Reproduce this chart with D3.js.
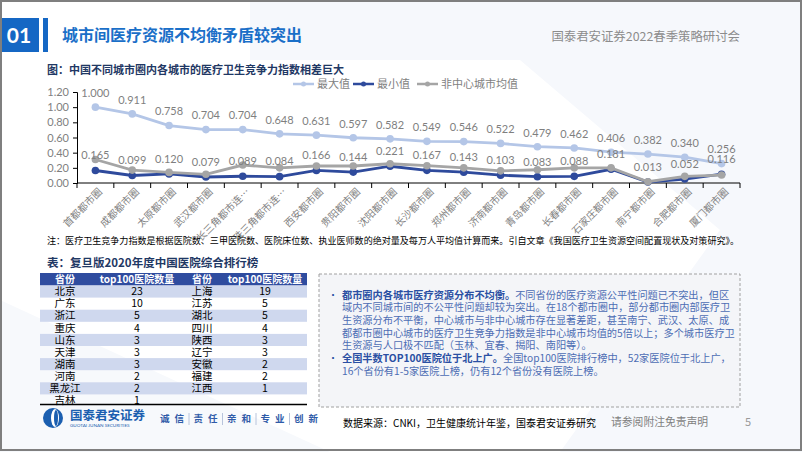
<!DOCTYPE html>
<html>
<head>
<meta charset="utf-8">
<style>
  body { margin: 0; background: #fff; }
  svg { display: block; font-family: "Noto Sans CJK SC", sans-serif; }
</style>
</head>
<body>
<svg width="802" height="452"></svg>
<script src="https://d3js.org/d3.v7.min.js"></script>
<script>

// chart data
var cities = ["首都都市圈", "成都都市圈", "太原都市圈", "武汉都市圈", "长三角都市连…", "珠三角都市连…",
  "西安都市圈", "贵阳都市圈", "沈阳都市圈", "长沙都市圈", "郑州都市圈", "济南都市圈",
  "青岛都市圈", "长春都市圈", "石家庄都市圈", "南宁都市圈", "合肥都市圈", "厦门都市圈"];
var maxVals = [1.000, 0.911, 0.758, 0.704, 0.704, 0.648, 0.631, 0.597, 0.582, 0.549, 0.546, 0.522, 0.479, 0.462, 0.406, 0.382, 0.340, 0.256];
var minVals = [0.165, 0.099, 0.120, 0.079, 0.089, 0.084, 0.166, 0.144, 0.221, 0.167, 0.143, 0.103, 0.083, 0.088, 0.181, 0.013, 0.052, 0.116];
var avgVals = [0.31, 0.17, 0.14, 0.115, 0.237, 0.20, 0.224, 0.224, 0.254, 0.228, 0.20, 0.16, 0.175, 0.20, 0.20, 0.017, 0.088, 0.105];
var yTicks = [0, 0.2, 0.4, 0.6, 0.8, 1.0, 1.2];

// table data
var provL = ["北京", "广东", "浙江", "重庆", "山东", "天津", "湖南", "河南", "黑龙江", "吉林"];
var countL = [23, 10, 5, 4, 3, 3, 3, 2, 2, 1];
var provR = ["上海", "江苏", "湖北", "四川", "陕西", "辽宁", "安徽", "福建", "江西"];
var countR = [19, 5, 5, 4, 3, 3, 2, 2, 1];

var svg = d3.select("svg");

// background tints
svg.append("polygon").attr("points", "250,0 802,0 802,452 560,452 720,230 520,60 250,60")
  .attr("fill", "#f6f8fc");
svg.append("polygon").attr("points", "0,300 330,452 0,452").attr("fill", "#f7f9fc");

// header
svg.append("rect").attr("x", 0).attr("y", 18).attr("width", 39).attr("height", 34).attr("fill", "#1567c4");
svg.append("text").attr("x", 19).attr("y", 36).attr("dy", "0.35em").attr("text-anchor", "middle")
  .attr("fill", "#fff").attr("font-weight", "bold").attr("font-size", 21).attr("font-family", "Lato, sans-serif").text("01");
svg.append("rect").attr("x", 43).attr("y", 18).attr("width", 5).attr("height", 34).attr("fill", "#1567c4");
svg.append("text").attr("x", 62).attr("y", 35).attr("dy", "0.35em").attr("fill", "#1a6fc8")
  .attr("font-weight", "bold").attr("font-size", 16).text("城市间医疗资源不均衡矛盾较突出");
svg.append("text").attr("x", 740).attr("y", 37).attr("dy", "0.35em").attr("text-anchor", "end")
  .attr("fill", "#8c8c8c").attr("font-size", 12.4).text("国泰君安证券2022春季策略研讨会");

// chart title
svg.append("text").attr("x", 47).attr("y", 70).attr("dy", "0.35em").attr("fill", "#1f3864")
  .attr("font-weight", "bold").attr("font-size", 11).text("图：中国不同城市圈内各城市的医疗卫生竞争力指数相差巨大");

var x = d3.scaleBand().domain(cities).range([77, 740]);
var y = d3.scaleLinear().domain([0, 1.2]).range([183, 92]);
var cx = function(i) { return x(cities[i]) + x.bandwidth() / 2; };

// y axis
var yAxis = svg.append("g").attr("transform", "translate(77,0)")
  .call(d3.axisLeft(y).tickValues(yTicks).tickSize(4).tickFormat(d3.format(".2f")));
yAxis.selectAll("path, line").attr("stroke", "#000");
yAxis.selectAll("text").attr("fill", "#7f7f7f").attr("font-size", 11)
  .attr("font-family", "Lato, sans-serif").attr("x", -8);

// x axis
var xg = svg.append("g").attr("transform", "translate(0,183)");
xg.append("line").attr("x1", 77).attr("x2", 740).attr("stroke", "#000");
xg.selectAll(".tk").data(d3.range(cities.length + 1)).enter().append("line")
  .attr("x1", function(i) { return 77 + i * x.bandwidth(); })
  .attr("x2", function(i) { return 77 + i * x.bandwidth(); })
  .attr("y1", 0).attr("y2", 5).attr("stroke", "#000");
svg.selectAll(".xl").data(cities).enter().append("text")
  .attr("transform", function(d, i) { return "translate(" + (cx(i) + 5) + ",190) rotate(-45)"; })
  .attr("text-anchor", "end").attr("dy", "0.35em")
  .attr("fill", "#7f7f7f").attr("font-size", 10).text(function(d) { return d; });

var series = [
  { name: "最大值", vals: maxVals, color: "#b4c6e7" },
  { name: "最小值", vals: minVals, color: "#2e4a9c" },
  { name: "非中心城市均值", vals: avgVals, color: "#a5a5a5" }
];

var line = d3.line().x(function(d, i) { return cx(i); }).y(function(d) { return y(d); });

series.forEach(function(s) {
  svg.append("path").attr("d", line(s.vals)).attr("fill", "none")
    .attr("stroke", s.color).attr("stroke-width", 2.8);
  svg.selectAll(null).data(s.vals).enter().append("circle")
    .attr("cx", function(d, i) { return cx(i); }).attr("cy", function(d) { return y(d); })
    .attr("r", 3.8).attr("fill", s.color);
});

// data labels
var fmt = d3.format(".3f");
[maxVals, minVals].forEach(function(vals, k) {
  svg.selectAll(null).data(vals).enter().append("text")
    .attr("x", function(d, i) { return cx(i); })
    .attr("y", function(d) { return y(d) - (k === 0 ? 14 : 15); })
    .attr("dy", "0.35em").attr("text-anchor", "middle")
    .attr("fill", "#7f7f7f").attr("font-size", 11).attr("font-family", "Lato, sans-serif")
    .text(fmt);
});

// legend
var legX = [293, 353, 417];
series.forEach(function(s, i) {
  var g = svg.append("g").attr("transform", "translate(" + legX[i] + ",84)");
  g.append("line").attr("x1", 0).attr("x2", 21).attr("stroke", s.color).attr("stroke-width", 2.5);
  g.append("circle").attr("cx", 10.5).attr("r", 2.5).attr("fill", s.color);
  g.append("text").attr("x", 24).attr("dy", "0.35em").attr("fill", "#7f7f7f")
    .attr("font-size", 11).text(s.name);
});

// note
svg.append("text").attr("x", 47).attr("y", 241).attr("dy", "0.35em").attr("fill", "#000")
  .attr("font-size", 9.05)
  .text("注：医疗卫生竞争力指数是根据医院数、三甲医院数、医院床位数、执业医师数的绝对量及每万人平均值计算而来。引自文章《我国医疗卫生资源空间配置现状及对策研究》。");

// table
svg.append("text").attr("x", 47).attr("y", 263).attr("dy", "0.35em").attr("fill", "#1f3864")
  .attr("font-weight", "bold").attr("font-size", 11.5).text("表：复旦版2020年度中国医院综合排行榜");

var colX = [65, 137, 202, 265];
var rowH = 12.1, top0 = 285.5;
svg.append("rect").attr("x", 40).attr("y", 273).attr("width", 267).attr("height", 12.5).attr("fill", "#2f4c9f");
["省份", "top100医院数量", "省份", "top100医院数量"].forEach(function(h, i) {
  svg.append("text").attr("x", colX[i]).attr("y", 279.3).attr("dy", "0.35em").attr("text-anchor", "middle")
    .attr("fill", "#fff").attr("font-weight", "bold").attr("font-size", 10).text(h);
});
provL.forEach(function(p, r) {
  var yy = top0 + r * rowH;
  if (r % 2 === 0) {
    svg.append("rect").attr("x", 40).attr("y", yy).attr("width", 267).attr("height", rowH).attr("fill", "#cfd8ee");
  }
  var cells = [p, countL[r], provR[r], countR[r]];
  cells.forEach(function(c, i) {
    if (c === undefined) return;
    svg.append("text").attr("x", colX[i]).attr("y", yy + rowH / 2).attr("dy", "0.35em")
      .attr("text-anchor", "middle").attr("fill", "#000").attr("font-size", 10.5).text(c);
  });
});
svg.append("line").attr("x1", 40).attr("x2", 307).attr("y1", 404.5).attr("y2", 404.5)
  .attr("stroke", "#000").attr("stroke-width", 1.5);

// text box
svg.append("rect").attr("x", 319).attr("y", 274).attr("width", 421).attr("height", 133)
  .attr("fill", "#f4f5f8").attr("stroke", "#a0a0a0").attr("stroke-dasharray", "3,2");
var boxLines = [
  [["都市圈内各城市医疗资源分布不均衡。", true], ["不同省份的医疗资源公平性问题已不突出，但区", false]],
  [["域内不同城市间的不公平性问题却较为突出。在18个都市圈中，部分都市圈内部医疗卫", false]],
  [["生资源分布不平衡，中心城市与非中心城市存在显著差距，甚至南宁、武汉、太原、成", false]],
  [["都都市圈中心城市的医疗卫生竞争力指数是非中心城市均值的5倍以上；多个城市医疗卫", false]],
  [["生资源与人口极不匹配（玉林、宜春、揭阳、南阳等）。", false]],
  [["全国半数TOP100医院位于北上广。", true], ["全国top100医院排行榜中，52家医院位于北上广，", false]],
  [["16个省份有1-5家医院上榜，仍有12个省份没有医院上榜。", false]]
];
boxLines.forEach(function(parts, i) {
  var ty = 295 + i * 12.7;
  var t = svg.append("text").attr("x", 342).attr("y", ty).attr("dy", "0.35em").attr("font-size", 10.2);
  parts.forEach(function(p) {
    t.append("tspan").attr("fill", p[1] ? "#2a4fa3" : "#4d6db4")
      .attr("font-weight", p[1] ? "bold" : "normal").text(p[0]);
  });
  if (i === 0 || i === 5) {
    svg.append("text").attr("x", 328).attr("y", ty).attr("dy", "0.35em").attr("fill", "#2a4fa3")
      .attr("font-size", 10).text("•");
  }
});

// footer
var logo = svg.append("g").attr("transform", "translate(53,418)");
logo.append("circle").attr("r", 10).attr("fill", "#1b5fb0");
logo.append("ellipse").attr("cx", 2).attr("rx", 4).attr("ry", 9).attr("fill", "#fff");
logo.append("ellipse").attr("cx", 3).attr("rx", 2).attr("ry", 8).attr("fill", "#1b5fb0");
svg.append("text").attr("x", 70).attr("y", 415.5).attr("dy", "0.35em").attr("fill", "#1b5fb0")
  .attr("font-weight", "bold").attr("font-size", 12.5).text("国泰君安证券");
svg.append("text").attr("x", 70).attr("y", 425).attr("dy", "0.35em").attr("fill", "#1b5fb0")
  .attr("font-size", 4.6).attr("font-family", "Lato, sans-serif").text("GUOTAI JUNAN SECURITIES");
var slogan = ["诚信", "责任", "亲和", "专业", "创新"];
slogan.forEach(function(w, i) {
  var sx = 160 + i * 33.5;
  svg.append("text").attr("x", sx).attr("y", 419).attr("dy", "0.35em").attr("fill", "#2f5ba8")
    .attr("font-size", 9.5).attr("font-weight", "bold").attr("letter-spacing", 5).text(w);
  if (i < slogan.length - 1) {
    svg.append("line").attr("x1", sx + 29).attr("x2", sx + 29).attr("y1", 413).attr("y2", 425)
      .attr("stroke", "#b8c4dc").attr("stroke-width", 1);
  }
});
svg.append("text").attr("x", 343).attr("y", 423).attr("dy", "0.35em").attr("fill", "#000")
  .attr("font-size", 10).text("数据来源：CNKI，卫生健康统计年鉴，国泰君安证券研究");
svg.append("text").attr("x", 611).attr("y", 422).attr("dy", "0.35em").attr("fill", "#7f7f7f")
  .attr("font-size", 10.8).text("请参阅附注免责声明");
svg.append("text").attr("x", 748).attr("y", 422).attr("dy", "0.35em").attr("text-anchor", "middle")
  .attr("fill", "#9a9a9a").attr("font-size", 11).text("5");

// frame
svg.append("rect").attr("x", 1).attr("y", 1).attr("width", 800).attr("height", 449)
  .attr("fill", "none").attr("stroke", "#7f7f7f").attr("stroke-width", 2);

</script>
</body>
</html>
